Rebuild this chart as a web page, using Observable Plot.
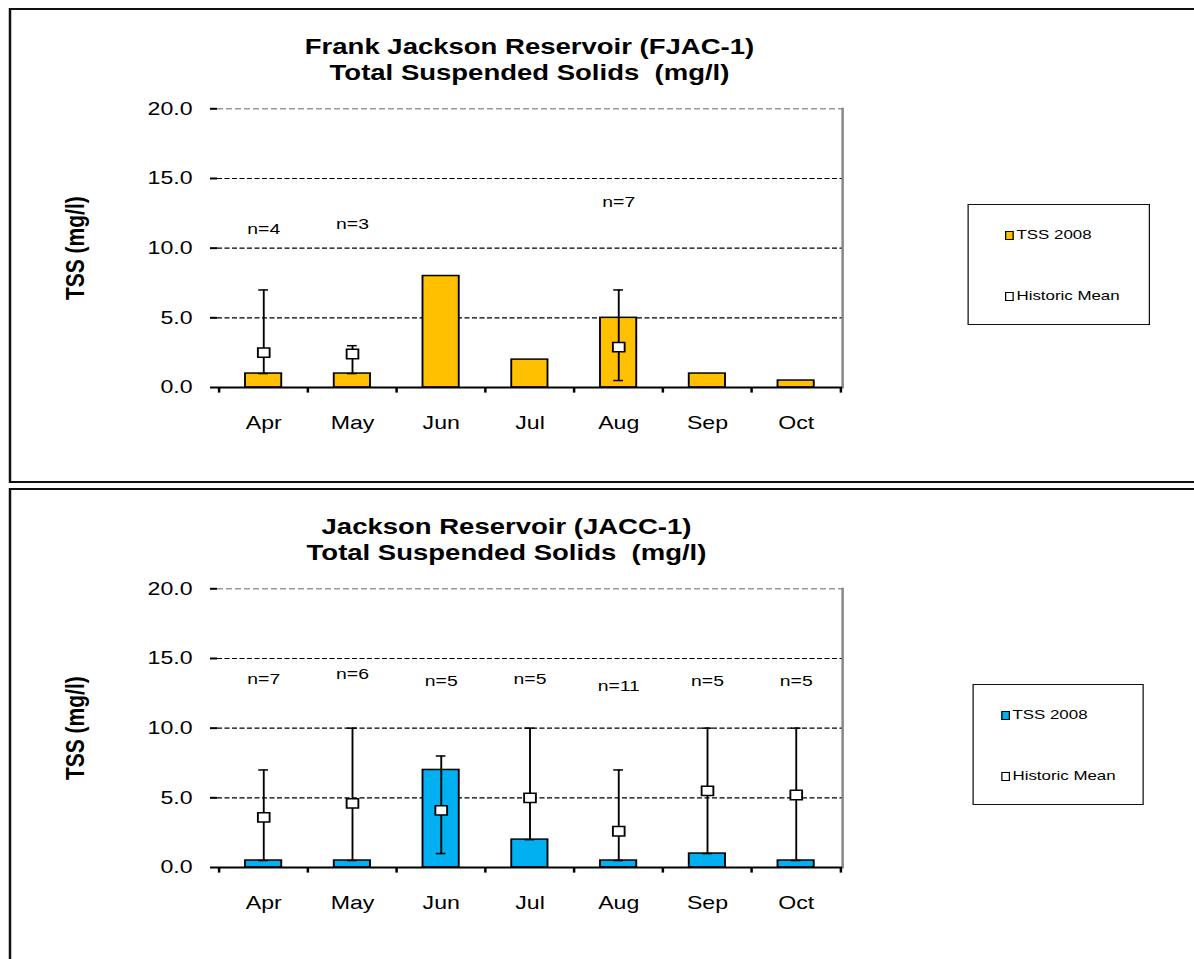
<!DOCTYPE html>
<html><head><meta charset="utf-8">
<script src="https://cdn.jsdelivr.net/npm/d3@7"></script>
<script src="https://cdn.jsdelivr.net/npm/@observablehq/plot@0.6"></script>
<style>
html,body{margin:0;padding:0;background:#fff;overflow:hidden;width:1194px;height:959px;}
#wrap{position:absolute;left:0;top:0;width:955.2px;height:959px;transform:scaleX(1.25);transform-origin:0 0;font-family:"Liberation Sans",Arial,sans-serif;color:#000;}
.panel{position:absolute;left:6.8px;width:1000px;border:2px solid #111;box-sizing:border-box;}
.title{position:absolute;width:600px;text-align:center;font-weight:bold;font-size:22px;line-height:26.6px;white-space:pre;}
.chart{position:absolute;left:0;}
.legend{position:absolute;border:1.5px solid #111;box-sizing:border-box;background:#fff;}
.item{position:absolute;font-size:13.5px;white-space:nowrap;line-height:16px;}
.sw{display:inline-block;width:5px;height:7px;border:1.5px solid #000;vertical-align:-1px;margin-right:2px;}
</style></head><body><div id="wrap"></div>
<script>
const months = ["Apr","May","Jun","Jul","Aug","Sep","Oct"];

// Frank Jackson Reservoir (FJAC-1)
const fjacTitle = ["Frank Jackson Reservoir (FJAC-1)", "Total Suspended Solids  (mg/l)"];
const fjacTss  = [1.0, 1.0, 8.0, 2.0, 5.0, 1.0, 0.5];
const fjacMean = [2.5, 2.4, null, null, 2.9, null, null];
const fjacMin  = [1.0, 1.0, null, null, 0.5, null, null];
const fjacMax  = [7.0, 3.0, null, null, 7.0, null, null];
const fjacN    = ["n=4", "n=3", null, null, "n=7", null, null];
const fjacNAt  = [11.4, 11.7, null, null, 13.3, null, null];

// Jackson Reservoir (JACC-1)
const jaccTitle = ["Jackson Reservoir (JACC-1)", "Total Suspended Solids  (mg/l)"];
const jaccTss  = [0.5, 0.5, 7.0, 2.0, 0.5, 1.0, 0.5];
const jaccMean = [3.6, 4.6, 4.1, 5.0, 2.6, 5.5, 5.2];
const jaccMin  = [0.5, 0.5, 1.0, 2.0, 0.5, 1.0, 0.5];
const jaccMax  = [7.0, 10.0, 8.0, 10.0, 7.0, 10.0, 10.0];
const jaccN    = ["n=7", "n=6", "n=5", "n=5", "n=11", "n=5", "n=5"];
const jaccNAt  = [13.5, 13.9, 13.4, 13.5, 13.0, 13.4, 13.4];

const yTicks = [0, 5, 10, 15, 20];
const yLabel = "TSS (mg/l)";
const legendLabels = ["TSS 2008", "Historic Mean"];

const FONT = '"Liberation Sans", Arial, sans-serif';

function chart(tss, mean, lo, hi, nlab, nAt, color) {
  const data = months.map((m, i) => ({month: m, tss: tss[i], mean: mean[i], lo: lo[i], hi: hi[i], n: nlab[i], nAt: nAt[i]}));
  const withMean = data.filter(d => d.mean != null);
  const withN = data.filter(d => d.n != null);
  const W = 760, H = 380, ML = 173.6, MR = 86.4, MT = 48.3, MB = 53;
  const step = (W - ML - MR) / months.length;
  return Plot.plot({
    width: W, height: H, marginLeft: ML, marginRight: MR, marginTop: MT, marginBottom: MB,
    style: {fontFamily: FONT, fontSize: "18.5px", color: "#000", background: "transparent", overflow: "visible"},
    x: {type: "band", domain: months, paddingInner: 0.59, paddingOuter: 0.295, label: null},
    y: {domain: [0, 20], label: null},
    marks: [
      Plot.ruleY([5, 10, 15], {stroke: "#000", strokeWidth: 1.2, strokeDasharray: "4,2"}),
      Plot.ruleY([20], {stroke: "#999", strokeWidth: 1.5, strokeDasharray: "4.8,2.4"}),
      Plot.frame({anchor: "right", stroke: "#888", strokeWidth: 2}),
      Plot.barY(data, {x: "month", y: "tss", fill: color, stroke: "#000", strokeWidth: 1.5}),
      Plot.ruleX(withMean, {x: "month", y1: "lo", y2: "hi", stroke: "#000", strokeWidth: 1.5}),
      Plot.tickY(withMean, {x: "month", y: "hi", stroke: "#000", strokeWidth: 1.5, insetLeft: 10.6, insetRight: 10.6}),
      Plot.tickY(withMean, {x: "month", y: "lo", stroke: "#000", strokeWidth: 1.5, insetLeft: 10.6, insetRight: 10.6}),
      Plot.dot(withMean, {x: "month", y: "mean", symbol: "square", r: 5.3, fill: "#fff", stroke: "#000", strokeWidth: 1.5}),
      Plot.text(withN, {x: "month", y: "nAt", text: "n", fontSize: 15.5, fill: "#000"}),
      Plot.ruleY([0], {stroke: "#000", strokeWidth: 2}),
      Plot.axisY({ticks: yTicks, tickFormat: d3.format(".1f"), tickSize: 5.6, tickPadding: 14.4, line: true, stroke: "#000", strokeWidth: 2, label: null, fontSize: 18.5}),
      Plot.axisX({tickSize: 0, tickPadding: 28, label: null, fontSize: 18.5}),
      Plot.axisX(months, {text: null, tickSize: 5.6, dx: -step / 2, stroke: "#000", strokeWidth: 2, label: null}),
      Plot.axisX([months[months.length - 1]], {text: null, tickSize: 5.6, dx: step / 2, stroke: "#000", strokeWidth: 2, label: null}),
      Plot.text([yLabel], {text: d => d, frameAnchor: "left", textAnchor: "middle", lineAnchor: "middle", dx: 60 - ML, rotate: -90, fontWeight: "bold", fontSize: 21, fill: "#000"})
    ]
  });
}

const wrap = document.getElementById("wrap");

function panel(offset, height, titleLeft, titleLines, tss, mean, lo, hi, nlab, nAt, color, leg) {
  const p = document.createElement("div");
  p.className = "panel";
  p.style.top = (8 + offset) + "px";
  p.style.height = height + "px";
  wrap.appendChild(p);

  const t = document.createElement("div");
  t.className = "title";
  t.style.left = titleLeft + "px";
  t.style.top = (33.7 + offset) + "px";
  t.textContent = titleLines.join("\n");
  wrap.appendChild(t);

  const c = document.createElement("div");
  c.className = "chart";
  c.style.top = (60 + offset) + "px";
  c.appendChild(chart(tss, mean, lo, hi, nlab, nAt, color));
  wrap.appendChild(c);

  const l = document.createElement("div");
  l.className = "legend";
  l.style.left = leg.left + "px";
  l.style.width = leg.width + "px";
  l.style.top = (204 + offset) + "px";
  l.style.height = "121px";
  const fills = [color, "#fff"];
  const tops = [21.5, 82.5];
  legendLabels.forEach((lab, i) => {
    const it = document.createElement("div");
    it.className = "item";
    it.style.left = leg.sw + "px";
    it.style.top = tops[i] + "px";
    const sw = document.createElement("span");
    sw.className = "sw";
    sw.style.background = fills[i];
    it.appendChild(sw);
    it.appendChild(document.createTextNode(lab));
    l.appendChild(it);
  });
  wrap.appendChild(l);
}

panel(0, 475, 123.6, fjacTitle, fjacTss, fjacMean, fjacMin, fjacMax, fjacN, fjacNAt, "#FFC000", {left: 774.4, width: 145.6, sw: 28.8});
panel(480, 600, 105.2, jaccTitle, jaccTss, jaccMean, jaccMin, jaccMax, jaccN, jaccNAt, "#00B0F0", {left: 777.6, width: 137.6, sw: 22.4});
</script></body></html>
